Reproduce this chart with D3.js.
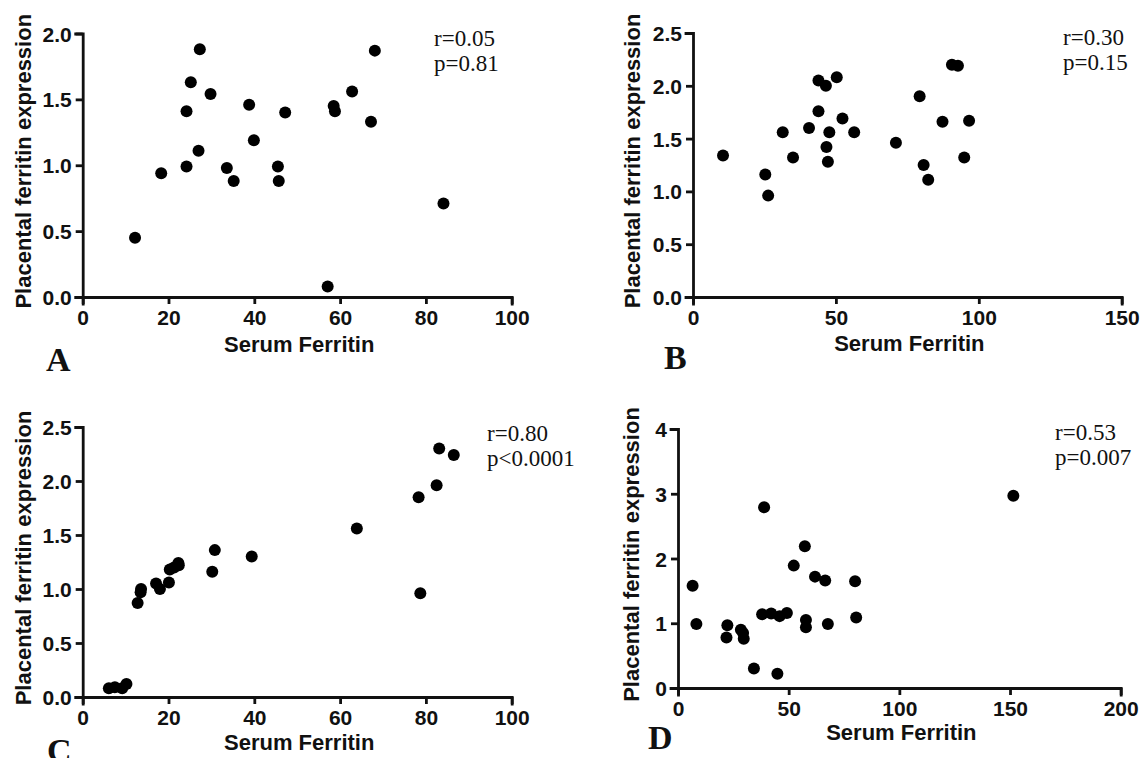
<!DOCTYPE html>
<html>
<head>
<meta charset="utf-8">
<script src="https://cdn.jsdelivr.net/npm/d3@7"></script>
<style>
  body { margin: 0; background: #fff; }
  svg { display: block; }
  .tick text { font-family: "Liberation Sans", Arial, sans-serif; font-weight: bold; font-size: 21px; fill: #111; }
  .axis-title { font-family: "Liberation Sans", Arial, sans-serif; font-weight: bold; font-size: 22px; fill: #111; }
  .stat { font-family: "Liberation Serif", "Times New Roman", serif; font-size: 23px; fill: #111; }
  .panel-letter { font-family: "Liberation Serif", "Times New Roman", serif; font-weight: bold; font-size: 34px; fill: #111; }
</style>
</head>
<body>
<div id="chart"></div>
<script>
// values
var aSerum = [12.2, 18.3, 24.2, 24.2, 25.2, 27.3, 27.0, 29.8, 33.6, 35.2, 38.8, 39.9, 45.5, 45.7, 47.2, 57.1, 58.5, 58.8, 62.8, 67.2, 68.1, 84.1];
var aPlacental = [0.45, 0.94, 1.41, 0.99, 1.63, 1.88, 1.11, 1.54, 0.98, 0.88, 1.46, 1.19, 0.99, 0.88, 1.40, 0.08, 1.45, 1.41, 1.56, 1.33, 1.87, 0.71];

var bSerum = [10.5, 25.3, 26.3, 31.4, 35.0, 40.6, 43.9, 43.9, 46.5, 46.7, 47.7, 47.2, 50.3, 52.3, 56.4, 71.0, 79.3, 80.7, 82.3, 87.3, 90.6, 92.7, 94.9, 96.6];
var bPlacental = [1.34, 1.16, 0.96, 1.56, 1.32, 1.60, 2.05, 1.76, 2.00, 1.42, 1.56, 1.28, 2.08, 1.69, 1.56, 1.46, 1.90, 1.25, 1.11, 1.66, 2.20, 2.19, 1.32, 1.67];

var cSerum = [6.1, 7.5, 9.2, 10.2, 12.8, 13.5, 13.6, 17.1, 18.0, 20.1, 20.3, 21.3, 22.3, 22.4, 30.2, 30.8, 39.4, 63.9, 78.3, 78.7, 82.5, 83.1, 86.5];
var cPlacental = [0.08, 0.09, 0.08, 0.12, 0.87, 0.97, 1.00, 1.05, 1.00, 1.06, 1.18, 1.20, 1.24, 1.22, 1.16, 1.36, 1.30, 1.56, 1.85, 0.96, 1.96, 2.30, 2.24];

var dSerum = [6.6, 8.3, 22.3, 21.9, 28.4, 29.4, 29.7, 34.3, 38.9, 38.0, 42.1, 45.9, 44.9, 49.2, 52.3, 57.3, 57.8, 57.8, 61.9, 66.5, 67.7, 80.0, 80.5, 151.5];
var dPlacental = [1.58, 0.99, 0.97, 0.78, 0.90, 0.85, 0.76, 0.30, 2.79, 1.14, 1.15, 1.11, 0.22, 1.16, 1.89, 2.19, 1.05, 0.94, 1.72, 1.66, 0.99, 1.65, 1.09, 2.97];

var aXTicks = [0, 20, 40, 60, 80, 100];
var aYTicks = [0, 0.5, 1.0, 1.5, 2.0];
var bXTicks = [0, 50, 100, 150];
var bYTicks = [0, 0.5, 1.0, 1.5, 2.0, 2.5];
var cXTicks = [0, 20, 40, 60, 80, 100];
var cYTicks = [0, 0.5, 1.0, 1.5, 2.0, 2.5];
var dXTicks = [0, 50, 100, 150, 200];
var dYTicks = [0, 1, 2, 3, 4];

var stats = [["r=0.05", "p=0.81"], ["r=0.30", "p=0.15"], ["r=0.80", "p<0.0001"], ["r=0.53", "p=0.007"]];
var letters = ["A", "B", "C", "D"];

var X_TITLE = "Serum Ferritin";
var Y_TITLE = "Placental ferritin expression";

var W = 1141, H = 758;
var DOT_R = 6;

var svg = d3.select("#chart").append("svg").attr("width", W).attr("height", H);

function drawPanel(p) {
  var x = d3.scaleLinear().domain([p.xTicks[0], p.xTicks[p.xTicks.length - 1]]).range([p.left, p.right]);
  var y = d3.scaleLinear().domain([p.yTicks[0], p.yTicks[p.yTicks.length - 1]]).range([p.bottom, p.top]);
  var g = svg.append("g");

  var xAxis = d3.axisBottom(x).tickValues(p.xTicks).tickFormat(d3.format("d")).tickSize(7).tickPadding(3);
  var yAxis = d3.axisLeft(y).tickValues(p.yTicks).tickFormat(d3.format(p.yFmt)).tickSize(7).tickPadding(4);

  var gx = g.append("g").attr("transform", "translate(0," + p.bottom + ")").call(xAxis);
  var gy = g.append("g").attr("transform", "translate(" + p.left + ",0)").call(yAxis);
  [gx, gy].forEach(function(ax) {
    ax.selectAll("path, line").attr("stroke", "#111").attr("stroke-width", 2.8);
    ax.select(".domain").attr("stroke-linecap", "square");
  });
  gx.selectAll(".tick text").attr("dy", "0.85em");
  gy.selectAll(".tick text").attr("dy", "0.36em");

  g.selectAll("circle.dot").data(p.xs).enter().append("circle")
    .attr("class", "dot")
    .attr("cx", function(d) { return x(d); })
    .attr("cy", function(d, i) { return y(p.ys[i]); })
    .attr("r", DOT_R)
    .attr("fill", "#000");

  g.append("text").attr("class", "axis-title")
    .attr("text-anchor", "middle")
    .attr("x", (p.left + p.right) / 2 + 2)
    .attr("y", p.bottom + p.xTitleGap)
    .text(X_TITLE);

  g.append("text").attr("class", "axis-title")
    .attr("text-anchor", "middle")
    .attr("transform", "translate(" + (p.left - p.yTitleGap) + "," + ((p.top + p.bottom) / 2 - 4) + ") rotate(-90)")
    .text(Y_TITLE);

  g.selectAll("text.stat").data(p.stat).enter().append("text")
    .attr("class", "stat")
    .attr("x", p.statX)
    .attr("y", function(d, i) { return p.statY + i * 25; })
    .text(function(d) { return d; });

  g.append("text").attr("class", "panel-letter")
    .attr("x", p.letterX).attr("y", p.letterY)
    .text(p.letter);
}

var panels = [
  {xs: aSerum, ys: aPlacental, xTicks: aXTicks, yTicks: aYTicks, yFmt: ".1f",
   left: 82.7, right: 511.7, top: 33.5, bottom: 297, xTitleGap: 55, yTitleGap: 52,
   stat: stats[0], statX: 434, statY: 46, letter: letters[0], letterX: 46, letterY: 371},
  {xs: bSerum, ys: bPlacental, xTicks: bXTicks, yTicks: bYTicks, yFmt: ".1f",
   left: 693, right: 1121.7, top: 33, bottom: 297, xTitleGap: 54, yTitleGap: 53,
   stat: stats[1], statX: 1063, statY: 45, letter: letters[1], letterX: 664, letterY: 369},
  {xs: cSerum, ys: cPlacental, xTicks: cXTicks, yTicks: cYTicks, yFmt: ".1f",
   left: 82.7, right: 511.7, top: 427, bottom: 697, xTitleGap: 53, yTitleGap: 52,
   stat: stats[2], statX: 487, statY: 441, letter: letters[2], letterX: 47, letterY: 762},
  {xs: dSerum, ys: dPlacental, xTicks: dXTicks, yTicks: dYTicks, yFmt: "d",
   left: 678, right: 1120.7, top: 429, bottom: 688, xTitleGap: 52, yTitleGap: 39,
   stat: stats[3], statX: 1055, statY: 440, letter: letters[3], letterX: 648, letterY: 749}
];

panels.forEach(drawPanel);
</script>
</body>
</html>
